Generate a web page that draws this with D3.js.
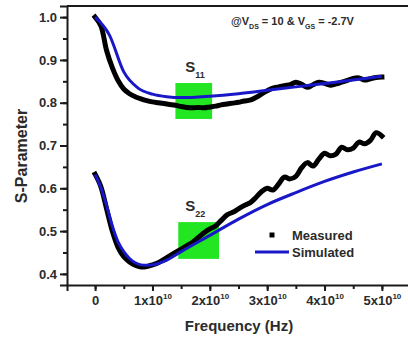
<!DOCTYPE html>
<html>
<head>
<meta charset="utf-8">
<script src="https://cdn.jsdelivr.net/npm/d3@7.9.0/dist/d3.min.js"></script>
<style>
  body { margin: 0; background: #fff; }
  svg text { font-family: "Liberation Sans", Arial, sans-serif; font-weight: bold; fill: #2b2b2b; }
</style>
</head>
<body>
<div id="chart"></div>
<script>
// frequency in units of 1e10 Hz
const freqMeas = d3.range(0, 51).map(i => i / 10);
const s11Measured = [
  1.000, 0.980, 0.922, 0.882, 0.852, 0.832, 0.821, 0.814, 0.809, 0.805,
  0.802, 0.800, 0.798, 0.796, 0.794, 0.791, 0.789, 0.788, 0.789, 0.788,
  0.790, 0.792, 0.795, 0.797, 0.799, 0.801, 0.804, 0.806, 0.812, 0.820,
  0.828, 0.834, 0.837, 0.840, 0.842, 0.848, 0.843, 0.836, 0.842, 0.848,
  0.845, 0.841, 0.844, 0.848, 0.852, 0.857, 0.858, 0.853, 0.856, 0.859,
  0.860
];
const s22Measured = [
  0.633, 0.604, 0.552, 0.500, 0.462, 0.440, 0.428, 0.420, 0.416, 0.417,
  0.421, 0.426, 0.434, 0.442, 0.450, 0.458, 0.466, 0.474, 0.485, 0.496,
  0.505, 0.512, 0.525, 0.538, 0.544, 0.552, 0.560, 0.566, 0.578, 0.592,
  0.600, 0.596, 0.610, 0.626, 0.622, 0.628, 0.648, 0.660, 0.652, 0.668,
  0.682, 0.676, 0.680, 0.696, 0.690, 0.694, 0.708, 0.704, 0.712, 0.730,
  0.722
];
const freqSim11 = [0, 0.25, 0.5, 0.75, 1.0, 1.25, 1.5, 1.75, 2.0, 2.5, 3.0, 3.5, 4.0, 4.5, 5.0];
const s11Simulated = [1.000, 0.958, 0.872, 0.834, 0.820, 0.814, 0.812, 0.813, 0.815, 0.821, 0.829, 0.837, 0.845, 0.853, 0.862];
const freqSim22 = [0, 0.1, 0.2, 0.3, 0.4, 0.5, 0.6, 0.7, 0.8, 0.9, 1.0, 1.25, 1.5, 2.0, 2.5, 3.0, 3.5, 4.0, 4.5, 5.0];
const s22Simulated = [0.632, 0.602, 0.560, 0.512, 0.475, 0.452, 0.436, 0.426, 0.421, 0.420, 0.421, 0.432, 0.452, 0.490, 0.528, 0.562, 0.590, 0.616, 0.638, 0.657];

const xTicks = [0, 1, 2, 3, 4, 5];
const yTicks = [0.4, 0.5, 0.6, 0.7, 0.8, 0.9, 1.0];
// highlighted regions [x0, x1, y0, y1]
const boxes = [
  { name: '11', x: [1.40, 2.04], y: [0.762, 0.846] },
  { name: '22', x: [1.45, 2.16], y: [0.435, 0.521] }
];
const boxLabels = [{ sub: '11', x: 1.57, y: 0.872 }, { sub: '22', x: 1.57, y: 0.547 }];

const width = 408, height = 341;
const svg = d3.select('#chart').append('svg')
  .attr('width', width).attr('height', height);

const xScale = d3.scaleLinear().domain([-0.49, 5.49]).range([67, 410]);
const yScale = d3.scaleLinear().domain([0.374, 1.026]).range([285, 6]);

// green boxes
svg.append('g').selectAll('rect')
  .data(boxes)
  .join('rect')
  .attr('x', d => xScale(d.x[0]))
  .attr('y', d => yScale(d.y[1]))
  .attr('width', d => xScale(d.x[1]) - xScale(d.x[0]))
  .attr('height', d => yScale(d.y[0]) - yScale(d.y[1]))
  .attr('fill', '#22e622');

// box labels
boxLabels.forEach(p => {
  const t = svg.append('text')
    .attr('x', xScale(p.x)).attr('y', yScale(p.y))
    .style('font-size', '15px');
  t.append('tspan').text('S');
  t.append('tspan').attr('dy', 6).style('font-size', '9px').text(p.sub);
});

const measLine = d3.line()
  .x((d, i) => xScale(freqMeas[i]))
  .y(d => yScale(d))
  .curve(d3.curveCatmullRom);

[s11Measured, s22Measured].forEach(s => {
  svg.append('path')
    .attr('d', measLine(s))
    .attr('fill', 'none')
    .attr('stroke', '#000')
    .attr('stroke-width', 5)
    .attr('stroke-linejoin', 'round')
    .attr('stroke-linecap', 'square');
});

const simLine = (xs) => d3.line()
  .x((d, i) => xScale(xs[i]))
  .y(d => yScale(d))
  .curve(d3.curveMonotoneX);

svg.append('path')
  .attr('d', simLine(freqSim11)(s11Simulated))
  .attr('fill', 'none').attr('stroke', '#1818c8').attr('stroke-width', 3);
svg.append('path')
  .attr('d', simLine(freqSim22)(s22Simulated))
  .attr('fill', 'none').attr('stroke', '#1818c8').attr('stroke-width', 3);

// axes
const yMinor = d3.range(0.4, 1.03, 0.05).map(v => +v.toFixed(2));
svg.append('g')
  .attr('transform', 'translate(67,0)')
  .call(d3.axisLeft(yScale).tickValues(yMinor).tickSize(4).tickFormat(''))
  .call(g => g.select('.domain').remove());
const yAxis = svg.append('g')
  .attr('transform', 'translate(67,0)')
  .call(d3.axisLeft(yScale).tickValues(yTicks).tickSize(7).tickPadding(3).tickFormat(d3.format('.1f')));
yAxis.selectAll('text').style('font-size', '13px').attr('fill', '#2b2b2b');

const xMinor = d3.range(0, 5.1, 0.5);
svg.append('g')
  .attr('transform', 'translate(0,285)')
  .call(d3.axisBottom(xScale).tickValues(xMinor).tickSize(4).tickFormat(''))
  .call(g => g.select('.domain').remove());
const xAxis = svg.append('g')
  .attr('transform', 'translate(0,285)')
  .call(d3.axisBottom(xScale).tickValues(xTicks).tickSize(6).tickPadding(6).tickFormat(''));
xAxis.selectAll('.tick').append('text')
  .attr('y', 20)
  .attr('text-anchor', 'middle')
  .style('font-size', '13px')
  .each(function (d) {
    const t = d3.select(this);
    if (d === 0) { t.text('0'); return; }
    t.append('tspan').text(d + 'x10');
    t.append('tspan').attr('dy', -6).style('font-size', '8px').text('10');
  });

svg.selectAll('.domain, .tick line').attr('stroke', '#1a1a1a').attr('stroke-width', 2);

// top frame line
svg.append('line')
  .attr('x1', 67).attr('x2', 410)
  .attr('y1', 6).attr('y2', 6)
  .attr('stroke', '#1a1a1a').attr('stroke-width', 2);

// axis titles
svg.append('text')
  .attr('x', 239).attr('y', 331)
  .attr('text-anchor', 'middle')
  .style('font-size', '15px')
  .text('Frequency (Hz)');
svg.append('text')
  .attr('transform', 'translate(27,156) rotate(-90)')
  .attr('text-anchor', 'middle')
  .style('font-size', '16px')
  .text('S-Parameter');

// condition annotation
const ann = svg.append('text').attr('x', 231).attr('y', 25).style('font-size', '11px');
ann.append('tspan').text('@V');
ann.append('tspan').attr('dy', 4).style('font-size', '7px').text('DS');
ann.append('tspan').attr('dy', -4).text(' = 10 & V');
ann.append('tspan').attr('dy', 4).style('font-size', '7px').text('GS');
ann.append('tspan').attr('dy', -4).text(' = -2.7V');

// legend
const legend = svg.append('g');
legend.append('rect').attr('x', 269.5).attr('y', 232.5).attr('width', 5).attr('height', 5).attr('fill', '#000');
legend.append('text').attr('x', 292).attr('y', 240).style('font-size', '13px').text('Measured');
legend.append('line').attr('x1', 255).attr('x2', 289).attr('y1', 252).attr('y2', 252)
  .attr('stroke', '#1818c8').attr('stroke-width', 3);
legend.append('text').attr('x', 292).attr('y', 257).style('font-size', '13px').text('Simulated');
</script>
</body>
</html>
